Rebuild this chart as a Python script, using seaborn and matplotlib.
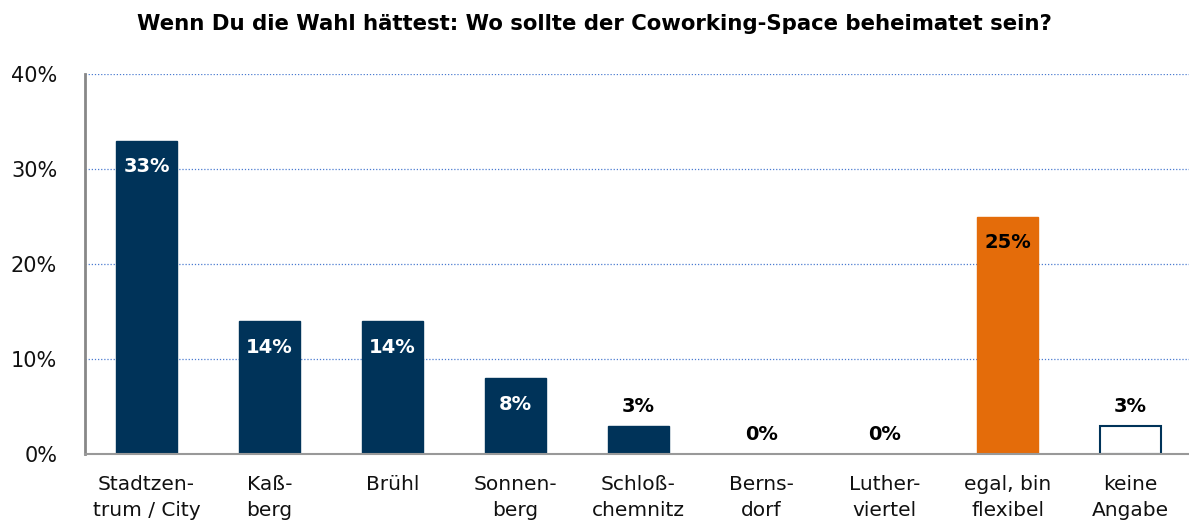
import matplotlib
matplotlib.use("Agg")
import matplotlib.pyplot as plt
import seaborn as sns
import pandas as pd
from matplotlib.ticker import FuncFormatter

categories = ["Stadtzen-\ntrum / City", "Kaß-\nberg", "Brühl", "Sonnen-\nberg",
              "Schloß-\nchemnitz", "Berns-\ndorf", "Luther-\nviertel",
              "egal, bin\nflexibel", "keine\nAngabe"]
values = [33, 14, 14, 8, 3, 0, 0, 25, 3]
title = "Wenn Du die Wahl hättest: Wo sollte der Coworking-Space beheimatet sein?"

navy = "#003359"
orange = "#E46C0A"
fills = [navy] * 7 + [orange, "white"]
text_cols = ["white"] * 7 + ["black", "black"]

sns.set_theme(style="white")
plt.rcParams["font.family"] = ["DejaVu Sans"]

df = pd.DataFrame({"cat": categories, "val": values})

fig = plt.figure(figsize=(11.89, 5.25), dpi=100)
ax = fig.add_axes([85 / 1189, 71 / 525, 1107 / 1189, 380 / 525])

sns.barplot(data=df, x="cat", y="val", hue="cat", palette=fills, legend=False,
            width=0.5, ax=ax, saturation=1)

for i, p in enumerate(ax.patches):
    if fills[i] == "white":
        p.set_edgecolor(navy)
        p.set_linewidth(1.5)
    else:
        p.set_edgecolor(fills[i])

ax.set_xlim(-0.5, 8.5)
ax.set_ylim(0, 40)
ax.set_yticks([0, 10, 20, 30, 40])
ax.yaxis.set_major_formatter(FuncFormatter(lambda v, _: f"{v:.0f}%"))
ax.set_xlabel("")
ax.set_ylabel("")
ax.tick_params(axis="y", labelsize=15, pad=20, length=0)
ax.tick_params(axis="x", labelsize=14.5, pad=15, length=0)
for lab in ax.get_xticklabels() + ax.get_yticklabels():
    lab.set_color("#111111")
    lab.set_linespacing(1.45)

ax.grid(axis="y", color="#4a7bd0", linestyle=(0, (1, 1.5)), linewidth=0.9)
ax.set_axisbelow(True)
for s in ["top", "right"]:
    ax.spines[s].set_visible(False)
ax.spines["left"].set_color("#888888")
ax.spines["left"].set_linewidth(2)
ax.spines["bottom"].set_color("#999999")
ax.spines["bottom"].set_linewidth(1.5)

for i, v in enumerate(values):
    if v >= 5:
        ax.annotate(f"{v}%", (i, v), xytext=(0, -19), textcoords="offset points",
                    ha="center", va="center", fontsize=14, fontweight="bold",
                    color=text_cols[i])
    else:
        ax.annotate(f"{v}%", (i, v), xytext=(0, 14), textcoords="offset points",
                    ha="center", va="center", fontsize=14, fontweight="bold",
                    color="black")

fig.text(0.5, 1 - 24 / 525, title, ha="center", va="center", fontsize=15.3,
         fontweight="bold", color="black")

fig.savefig("out.png", dpi=100)
